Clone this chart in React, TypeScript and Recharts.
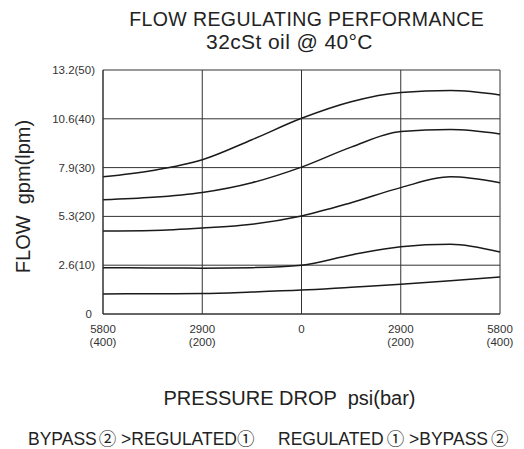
import { CartesianGrid, Line, LineChart, XAxis, YAxis } from "recharts";

// pressure drop in bar, negative = bypass side, positive = regulated side
const pressureBar = [-400, -300, -200, -100, 0, 100, 200, 300, 400];
const curve1 = [28.1, 29.4, 31.6, 35.7, 40.1, 43.5, 45.4, 45.8, 44.9];
const curve2 = [23.4, 23.9, 24.9, 26.9, 30.1, 34.2, 37.4, 37.8, 36.9];
const curve3 = [17.0, 17.1, 17.6, 18.4, 20.1, 22.8, 25.9, 28.1, 26.9];
const curve4 = [9.5, 9.45, 9.4, 9.5, 10.0, 12.1, 13.8, 14.3, 12.7];
const curve5 = [4.1, 4.15, 4.2, 4.5, 4.9, 5.5, 6.1, 6.8, 7.6];

const xTicks = [-400, -200, 0, 200, 400];
const xTickPsi = ["5800", "2900", "0", "2900", "5800"];
const xTickBar = ["(400)", "(200)", "", "(200)", "(400)"];
const yTicks = [0, 10, 20, 30, 40, 50];
const yTickGpm = ["0", "2.6", "5.3", "7.9", "10.6", "13.2"];

const series = [curve1, curve2, curve3, curve4, curve5];
const data = pressureBar.map((bar, i) => {
  const row: Record<string, number> = { bar };
  series.forEach((s, k) => (row["c" + k] = s[i]));
  return row;
});

const FONT = "'Liberation Sans', Arial, sans-serif";
const CJK = "'Noto Sans CJK JP', sans-serif";

const XTick = (props: any) => {
  const { x, y, payload } = props;
  const i = xTicks.indexOf(payload.value);
  return (
    <g>
      <text x={x} y={y + 11} textAnchor="middle" fontSize={11.5} fill="#333" fontFamily={FONT}>
        {xTickPsi[i]}
      </text>
      <text x={x} y={y + 23.5} textAnchor="middle" fontSize={11.5} fill="#333" fontFamily={FONT}>
        {xTickBar[i]}
      </text>
    </g>
  );
};

const YTick = (props: any) => {
  const { x, y, payload } = props;
  const v = payload.value;
  const i = yTicks.indexOf(v);
  const label = v === 0 ? "0" : `${yTickGpm[i]}(${v})`;
  return (
    <text x={v === 0 ? x - 3 : x} y={y + 4} textAnchor="end" fontSize={11.5} fill="#333" fontFamily={FONT}>
      {label}
    </text>
  );
};

export default function App() {
  return (
    <div style={{ position: "absolute", left: 0, top: 0, width: 524, height: 449, background: "#fff" }}>
      <LineChart width={524} height={449} data={data} margin={{ top: 70, right: 24, bottom: 95, left: 0 }}>
        <CartesianGrid stroke="#333" />
        <XAxis
          dataKey="bar"
          type="number"
          domain={[-400, 400]}
          ticks={xTicks}
          tick={<XTick />}
          tickLine={false}
          axisLine={{ stroke: "#333" }}
          height={40}
          interval={0}
        />
        <YAxis
          type="number"
          domain={[0, 50]}
          ticks={yTicks}
          tick={<YTick />}
          tickLine={false}
          axisLine={{ stroke: "#333" }}
          width={103}
          interval={0}
        />
        {series.map((_, k) => (
          <Line
            key={k}
            type="monotone"
            dataKey={"c" + k}
            stroke="#1a1a1a"
            strokeWidth={1.5}
            dot={false}
            isAnimationActive={false}
          />
        ))}
      </LineChart>
      <svg
        width={524}
        height={449}
        style={{ position: "absolute", left: 0, top: 0, pointerEvents: "none" }}
        fontFamily={FONT}
        fill="#222"
      >
        <text x={306.7} y={25.5} textAnchor="middle" fontSize={19.5} letterSpacing={0.4}>
          FLOW REGULATING PERFORMANCE
        </text>
        <text x={289.5} y={48.5} textAnchor="middle" fontSize={21} letterSpacing={0.4}>
          32cSt oil @ 40°C
        </text>
        <text
          x={29.5}
          y={196.5}
          textAnchor="middle"
          fontSize={20}
          transform="rotate(-90 29.5 196.5)"
          style={{ whiteSpace: "pre" }}
        >
          FLOW  gpm(lpm)
        </text>
        <text x={289.5} y={405} textAnchor="middle" fontSize={20} style={{ whiteSpace: "pre" }}>
          PRESSURE DROP  psi(bar)
        </text>
        <text x={28} y={445} fontSize={17.5} style={{ whiteSpace: "pre" }}>
          BYPASS<tspan fontFamily={CJK} dx={2}>②</tspan> &gt;REGULATED<tspan fontFamily={CJK}>①</tspan>
        </text>
        <text x={278} y={445} fontSize={17.5} style={{ whiteSpace: "pre" }}>
          REGULATED<tspan fontFamily={CJK} dx={3}>①</tspan><tspan>{" >BYPASS"}</tspan><tspan fontFamily={CJK} dx={3}>②</tspan>
        </text>
      </svg>
    </div>
  );
}
